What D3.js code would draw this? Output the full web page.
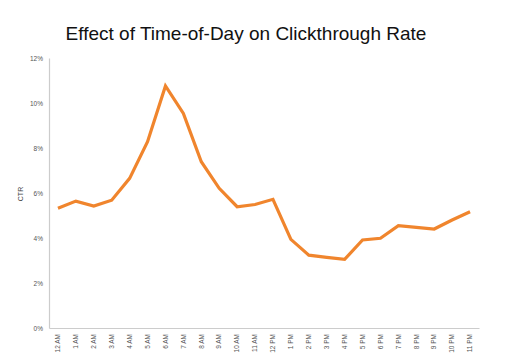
<!DOCTYPE html>
<html>
<head>
<meta charset="utf-8">
<script src="https://cdn.jsdelivr.net/npm/d3@7"></script>
<style>
    body { margin: 0; background: #fff; }
    .tick text { fill: #555; font-family: "Liberation Sans", Helvetica, Arial, sans-serif; }
</style>
</head>
<body>
<div id="chart"></div>
<script>
const hours = ["12 AM", "1 AM", "2 AM", "3 AM", "4 AM", "5 AM", "6 AM", "7 AM", "8 AM", "9 AM", "10 AM", "11 AM",
    "12 PM", "1 PM", "2 PM", "3 PM", "4 PM", "5 PM", "6 PM", "7 PM", "8 PM", "9 PM", "10 PM", "11 PM"];
const ctr = [5.32, 5.64, 5.42, 5.68, 6.65, 8.28, 10.76, 9.54, 7.39, 6.21, 5.39, 5.49,
    5.72, 3.94, 3.24, 3.14, 3.05, 3.91, 3.99, 4.55, 4.47, 4.40, 4.80, 5.17];
const yTicks = [0, 2, 4, 6, 8, 10, 12];

// set the dimensions and margins of the graph
const margin = { top: 58, right: 33, bottom: 34, left: 49 };
const width = 512 - margin.left - margin.right;
const height = 362 - margin.top - margin.bottom;

const root = d3.select("#chart")
    .append("svg")
    .attr("width", 512)
    .attr("height", 362);

root.append("text")
    .attr("x", 246)
    .attr("y", 40)
    .attr("text-anchor", "middle")
    .attr("font-family", "'Liberation Sans', Helvetica, Arial, sans-serif")
    .attr("font-size", 19)
    .attr("fill", "#111")
    .text("Effect of Time-of-Day on Clickthrough Rate");

const svg = root.append("g")
    .attr("transform", `translate(${margin.left},${margin.top})`);

// x axis
const x = d3.scaleBand()
    .domain(hours)
    .range([0, width]);

// y axis
const y = d3.scaleLinear()
    .domain([0, 12])
    .range([height, 0]);

const yAxis = d3.axisLeft(y)
    .tickValues(yTicks)
    .tickSize(0)
    .tickPadding(6)
    .tickFormat(d => `${d}%`);
svg.append("g")
    .call(yAxis)
    .call(g => g.select(".domain").attr("stroke", "#ccc").attr("stroke-width", 1.2))
    .selectAll("text")
    .attr("font-size", 6.5);

const xAxis = d3.axisBottom(x)
    .tickSize(0)
    .tickPadding(0);
svg.append("g")
    .attr("transform", `translate(0,${height})`)
    .call(xAxis)
    .call(g => g.select(".domain").attr("stroke", "#ccc").attr("stroke-width", 1.2))
    .selectAll("text")
    .attr("font-size", 6.5)
    .attr("text-anchor", "end")
    .attr("dy", "0.35em")
    .attr("transform", "translate(0,6) rotate(-90)")
    .attr("x", 0)
    .attr("y", 0);

// y axis label
svg.append("text")
    .attr("text-anchor", "middle")
    .attr("transform", `translate(${-margin.left + 23},${y(6) + 1}) rotate(-90)`)
    .attr("font-family", "'Liberation Sans', Helvetica, Arial, sans-serif")
    .attr("font-size", 7)
    .attr("fill", "#444")
    .text("CTR");

// line
const line = d3.line()
    .x((d, i) => x(hours[i]) + x.bandwidth() / 2)
    .y(d => y(d));

svg.append("path")
    .datum(ctr)
    .attr("fill", "none")
    .attr("stroke", "#f0852d")
    .attr("stroke-width", 3.2)
    .attr("stroke-linejoin", "miter")
    .attr("d", line);
</script>
</body>
</html>
